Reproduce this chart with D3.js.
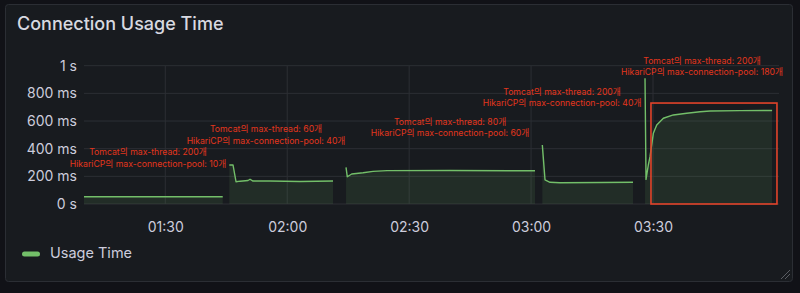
<!DOCTYPE html>
<html>
<head>
<meta charset="utf-8">
<script src="https://cdn.jsdelivr.net/npm/d3@7"></script>
<style>
  html, body { margin: 0; padding: 0; background: #111217; }
  svg { display: block; }
  text { font-family: Inter, "Noto Sans CJK KR", "Noto Sans", sans-serif; }
</style>
</head>
<body>
<svg id="chart" width="800" height="293"></svg>
<script>
// ---------- data ----------
const title = "Connection Usage Time";
const seriesName = "Usage Time";
// each segment = separate run of samples (gaps = no data)
const seg1Times  = ["01:10:00", "01:44:08"];
const seg1Values = [52, 52];
const seg2Times  = ["01:45:45", "01:46:40", "01:47:24", "01:48:23", "01:50:21", "01:50:51", "01:51:35", "01:55:46", "02:03:09", "02:11:16"];
const seg2Values = [282, 282, 161, 165, 170, 179, 166, 166, 163, 166];
const seg3Times  = ["02:14:28", "02:14:47", "02:15:52", "02:18:39", "02:21:07", "02:24:34", "02:40:04", "03:00:58"];
const seg3Values = [265, 197, 217, 226, 236, 241, 242, 240];
const seg4Times  = ["03:02:46", "03:03:26", "03:04:40", "03:07:08", "03:16:58", "03:25:05"];
const seg4Values = [427, 174, 157, 154, 155, 157];
const seg5Times  = ["03:28:02", "03:28:17", "03:28:51", "03:29:16", "03:30:05", "03:30:55", "03:32:33", "03:35:00", "03:38:18", "03:41:34", "03:44:02", "03:51:24", "03:59:18"];
const seg5Values = [909, 178, 282, 342, 511, 571, 620, 644, 656, 667, 672, 675, 676];

const xDomain = ["01:10:00", "04:01:00"];
const xTickLabels = ["01:30", "02:00", "02:30", "03:00", "03:30"];
const yTickValues = [0, 200, 400, 600, 800, 1000];
const yMax = 1000;

// annotations: centre time, baseline value of 2nd line, text lines
const annTimes  = ["01:25:45", "01:54:47", "02:40:04", "03:07:37", "03:42:04"];
const annValues = [271, 437, 490, 705, 931];
const annLine1  = ["Tomcat의 max-thread: 200개", "Tomcat의 max-thread: 60개", "Tomcat의 max-thread: 80개", "Tomcat의 max-thread: 200개", "Tomcat의 max-thread: 200개"];
const annLine2  = ["HikariCP의 max-connection-pool: 10개", "HikariCP의 max-connection-pool: 40개", "HikariCP의 max-connection-pool: 60개", "HikariCP의 max-connection-pool: 40개", "HikariCP의 max-connection-pool: 180개"];
// highlight box (time range, value range)
const boxTimes  = ["03:29:30", "04:00:30"];
const boxValues = [0, 730];

// ---------- drawing ----------
const parse = d3.timeParse("%H:%M:%S");
const parseHM = d3.timeParse("%H:%M");
const svg = d3.select("#chart");

// panel
svg.append("rect").attr("x", 0).attr("y", 0).attr("width", 800).attr("height", 293).attr("fill", "#111217");
svg.append("rect").attr("x", 5.5).attr("y", 4.5).attr("width", 787).attr("height", 277)
  .attr("rx", 3).attr("fill", "#181b1f").attr("stroke", "#2b2e34");

svg.append("text").attr("x", 17).attr("y", 29.5).text(title)
  .attr("fill", "#d8d9e0").attr("font-size", 18).attr("font-weight", 500);

const x = d3.scaleTime().domain(xDomain.map(parse)).range([84, 779]);
const y = d3.scaleLinear().domain([0, yMax]).range([204, 65.7]);

// grid
const g = svg.append("g");
g.selectAll("line.hg").data(yTickValues).join("line")
  .attr("x1", 84).attr("x2", 779)
  .attr("y1", d => y(d)).attr("y2", d => y(d))
  .attr("stroke", "#2c2f34").attr("stroke-width", 1);
g.selectAll("line.vg").data(xTickLabels.map(parseHM)).join("line")
  .attr("x1", d => x(d)).attr("x2", d => x(d))
  .attr("y1", y(yMax)).attr("y2", y(0))
  .attr("stroke", "#2c2f34").attr("stroke-width", 1);

// axes
const xAxis = d3.axisBottom(x).tickValues(xTickLabels.map(parseHM))
  .tickFormat(d3.timeFormat("%H:%M")).tickSize(0).tickPadding(0);
const xa = svg.append("g").attr("transform", `translate(0, ${y(0) + 24})`).call(xAxis);
xa.select(".domain").remove();
xa.selectAll("text").attr("fill", "#ccccdc").attr("font-size", 14)
  .attr("dy", null).attr("dominant-baseline", "middle")
  .style("font-family", "Inter, sans-serif");

const fmtY = v => v === 0 ? "0 s" : (v >= 1000 ? (v / 1000) + " s" : v + " ms");
const yAxis = d3.axisLeft(y).tickValues(yTickValues).tickFormat(fmtY).tickSize(0).tickPadding(0);
const ya = svg.append("g").attr("transform", "translate(77,0)").call(yAxis);
ya.select(".domain").remove();
ya.selectAll("text").attr("fill", "#ccccdc").attr("font-size", 14)
  .style("font-family", "Inter, sans-serif");

// series
const segments = [
  [seg1Times, seg1Values], [seg2Times, seg2Values], [seg3Times, seg3Values],
  [seg4Times, seg4Values], [seg5Times, seg5Values]
].map(([t, v]) => t.map((s, i) => ({ t: parse(s), v: v[i] })));

const area = d3.area().x(d => x(d.t)).y0(y(0)).y1(d => y(d.v));
const line = d3.line().x(d => x(d.t)).y(d => y(d.v));

svg.append("g").selectAll("path").data(segments).join("path")
  .attr("d", area).attr("fill", "#73bf69").attr("fill-opacity", 0.11);
svg.append("g").selectAll("path").data(segments).join("path")
  .attr("d", line).attr("fill", "none").attr("stroke", "#73bf69").attr("stroke-width", 1.4)
  .attr("stroke-linejoin", "round");

// highlight box
svg.append("rect")
  .attr("x", x(parse(boxTimes[0]))).attr("y", y(boxValues[1]))
  .attr("width", x(parse(boxTimes[1])) - x(parse(boxTimes[0])))
  .attr("height", y(boxValues[0]) - y(boxValues[1]))
  .attr("fill", "none").attr("stroke", "#e2432a").attr("stroke-width", 1.6);

// annotations
const ann = svg.append("g");
annTimes.forEach((t, i) => {
  const cx = x(parse(t)), by = y(annValues[i]);
  ann.append("text").attr("x", cx).attr("y", by - 11.3).attr("text-anchor", "middle")
    .attr("fill", "#e3361d").attr("font-size", 8.7).text(annLine1[i]);
  ann.append("text").attr("x", cx).attr("y", by).attr("text-anchor", "middle")
    .attr("fill", "#e3361d").attr("font-size", 8.7).text(annLine2[i]);
});

// legend
svg.append("rect").attr("x", 22).attr("y", 251.5).attr("width", 18).attr("height", 5).attr("rx", 2.5)
  .attr("fill", "#73bf69");
svg.append("text").attr("x", 50).attr("y", 254).attr("dominant-baseline", "middle")
  .attr("fill", "#ccccdc").attr("font-size", 14.5).text(seriesName);

// resize handle
const rh = svg.append("g").attr("stroke", "#5a5d63").attr("stroke-width", 1);
rh.append("line").attr("x1", 781).attr("y1", 279).attr("x2", 790).attr("y2", 270);
rh.append("line").attr("x1", 785).attr("y1", 279).attr("x2", 790).attr("y2", 274);
</script>
</body>
</html>
